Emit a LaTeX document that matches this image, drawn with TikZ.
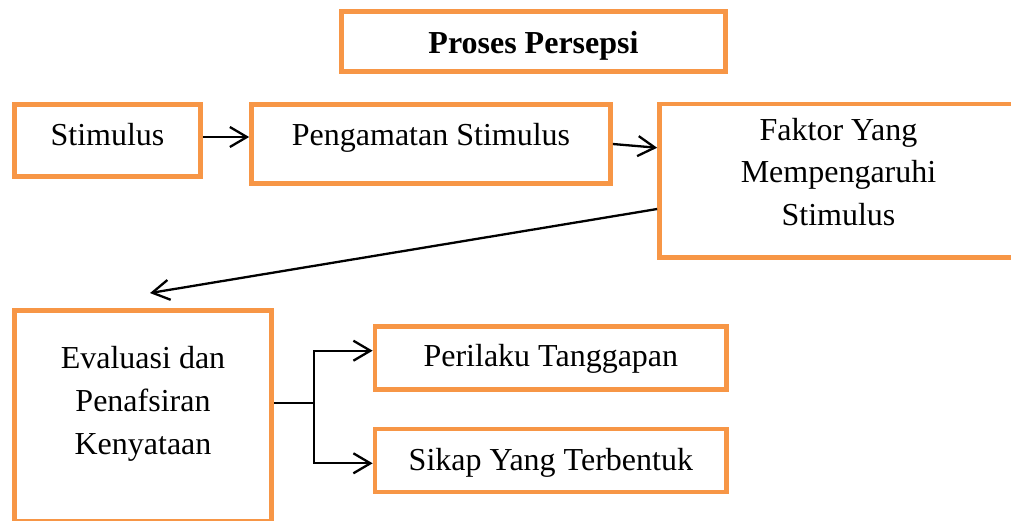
\documentclass[tikz,border=0pt]{standalone}
\usepackage{fontspec}
\setmainfont{Liberation Serif}
\usetikzlibrary{arrows.meta,calc}
\definecolor{boxorange}{RGB}{247,150,70}
\begin{document}
\begin{tikzpicture}[x=1pt,y=-1pt,
  box/.style={draw=boxorange, line width=4.7pt, inner sep=0pt, align=center,
    font=\fontsize{32}{42.6}\selectfont},
  tshift/.style={execute at begin node={\rule{0pt}{\dimexpr 25pt+#1pt\relax}},
    execute at end node={\rule[\dimexpr #1pt-25pt\relax]{0pt}{0pt}}},
  conn/.style={draw=black, line width=2.3pt},
  arr/.style={conn, -{Straight Barb[length=17pt,width=20pt]}}]
\useasboundingbox (0,0) rectangle (1011,520);

\node[box, tshift=11.8, minimum width=384pt, minimum height=60pt,
  font=\fontsize{32}{42.6}\selectfont\bfseries] (title) at (533.5,41.5) {Proses Persepsi};
\node[box, tshift=5.2, minimum width=186pt, minimum height=72pt] (stim) at (107.5,140.5) {Stimulus};
\node[box, tshift=1, minimum width=359pt, minimum height=79pt] (peng) at (431,144) {Pengamatan Stimulus};
\node[box, tshift=6.75, minimum width=358pt, minimum height=153.5pt] (fak) at (838.5,180.75) {Faktor Yang\\Mempengaruhi\\Stimulus};
\node[box, tshift=-5.85, minimum width=257.3pt, minimum height=210.3pt] (eval) at (143,415.85) {Evaluasi dan\\Penafsiran\\Kenyataan};
\node[box, tshift=8.9, minimum width=351.7pt, minimum height=63pt] (peri) at (550.85,357.8) {Perilaku Tanggapan};
\node[box, tshift=9.5, minimum width=351.7pt, minimum height=63pt] (sikap) at (550.85,460.5) {Sikap Yang Terbentuk};

\draw[arr] ([yshift=3.5pt]stim.east) -- ([yshift=3.5pt]stim.east -| peng.west);
\draw[arr] (peng.east) -- ([yshift=33pt]fak.west);
\coordinate (evtip) at ([xshift=7pt,yshift=15.3pt]eval.north);
\draw[arr] ([yshift=-28.25pt]fak.west) -- (evtip);

\draw[conn] ([yshift=12.55pt]eval.east) -- ++(40.25,0) coordinate (br);
\coordinate (pa) at ([yshift=7.1pt]peri.west);
\coordinate (sa) at ([yshift=-2.8pt]sikap.west);
\draw[arr] (br |- sa) -- (br |- pa) -- (pa);
\draw[arr, line cap=rect] (br |- sa) -- (sa);
\end{tikzpicture}
\end{document}
